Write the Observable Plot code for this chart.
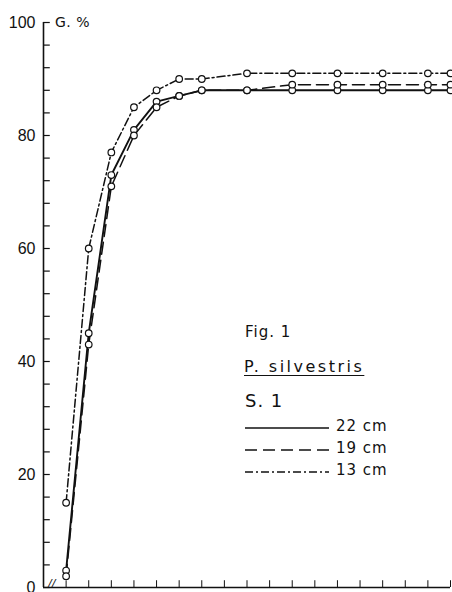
<!DOCTYPE html>
<html><head><meta charset="utf-8">
<script src="https://cdn.jsdelivr.net/npm/d3@7"></script>
<script src="https://cdn.jsdelivr.net/npm/@observablehq/plot@0.6"></script>
<style>
body{margin:0;background:#fff;font-family:"DejaVu Sans",sans-serif;color:#111}
#wrap{position:relative;width:452px;height:592px}
.ov{position:absolute;white-space:nowrap;line-height:1;font-weight:400}
</style></head><body>
<div id="wrap"></div>
<script>
// Day index (x) and germination % per seed size
const days = [1,2,3,4,5,6,7,9,11,13,15,17,18];
const g22 = [3,45,73,81,86,87,88,88,88,88,88,88,88];
const g19 = [2,43,71,80,85,87,88,88,89,89,89,89,89];
const g13 = [15,60,77,85,88,90,90,91,91,91,91,91,91];
const seriesNames = ["22 cm","19 cm","13 cm"];
const dashes = ["none","12,6","8,3,2,3"];
const yLabelTicks = [0,20,40,60,80,100];
const yMinorTicks = d3.range(0,101,4);
const xTicks = d3.range(1,19);

const rows = [];
[g22,g19,g13].forEach((vals,si)=>vals.forEach((v,i)=>rows.push({series:seriesNames[si],x:days[i],y:v})));

const lineMarks = seriesNames.map((s,si)=>Plot.line(rows.filter(r=>r.series===s),{x:"x",y:"y",stroke:"#111",strokeWidth:si===0?1.9:1.5,strokeDasharray:dashes[si]==="none"?null:dashes[si]}));

const chart = Plot.plot({
  width:452,height:592,
  marginLeft:43,marginRight:2,marginTop:22,marginBottom:5,
  style:{fontFamily:"Liberation Sans, Arial, sans-serif",background:"#fff",color:"#111"},
  x:{domain:[0,18],axis:null},
  y:{domain:[0,100],axis:null},
  marks:[
    Plot.axisY({ticks:yLabelTicks,tickSize:0,tickPadding:8,fontSize:16,anchor:"left",label:null}),
    Plot.ruleY(yMinorTicks,{y:d=>d,x1:0,x2:0.3,stroke:"#111",strokeWidth:1.2}),
    Plot.ruleX(xTicks,{x:d=>d,y1:0,y2:1.2,stroke:"#111",strokeWidth:1}),
    Plot.ruleX([0],{y1:0,y2:100,stroke:"#111",strokeWidth:1.6}),
    Plot.ruleY([0],{x1:0,x2:18,stroke:"#111",strokeWidth:1.6}),
    ...lineMarks,
    Plot.dot(rows,{x:"x",y:"y",r:3.3,fill:"#fff",stroke:"#111",strokeWidth:1.2})
  ]
});
const wrap=document.getElementById("wrap");
wrap.appendChild(chart);

function addText(txt,left,top,size,extra){
  const d=document.createElement("div");d.className="ov";d.textContent=txt;
  d.style.left=left+"px";d.style.top=top+"px";d.style.fontSize=size+"px";
  if(extra)Object.assign(d.style,extra);wrap.appendChild(d);return d;
}
addText("G. %",55,15,14,{letterSpacing:"0.5px"});
addText("//",48,578,11,{fontStyle:"italic"});
addText("Fig. 1",245,325,15,{letterSpacing:"1px"});
addText("P. silvestris",244,359,16,{letterSpacing:"2.5px",textDecoration:"underline",textUnderlineOffset:"3px"});
addText("S. 1",245,392,18,{letterSpacing:"1px"});
seriesNames.forEach((s,i)=>{
  const top=[428,450,472][i];
  const sw=document.createElementNS("http://www.w3.org/2000/svg","svg");
  sw.setAttribute("width",84);sw.setAttribute("height",4);
  sw.style.position="absolute";sw.style.left="245px";sw.style.top=(top-2)+"px";
  const l=document.createElementNS("http://www.w3.org/2000/svg","line");
  l.setAttribute("x1",0);l.setAttribute("x2",84);l.setAttribute("y1",2);l.setAttribute("y2",2);
  l.setAttribute("stroke","#111");l.setAttribute("stroke-width",1.6);
  if(dashes[i]!=="none")l.setAttribute("stroke-dasharray",dashes[i]);
  sw.appendChild(l);wrap.appendChild(sw);
  addText(s,336,top-9,15,{letterSpacing:"1px"});
});
</script>
</body></html>
